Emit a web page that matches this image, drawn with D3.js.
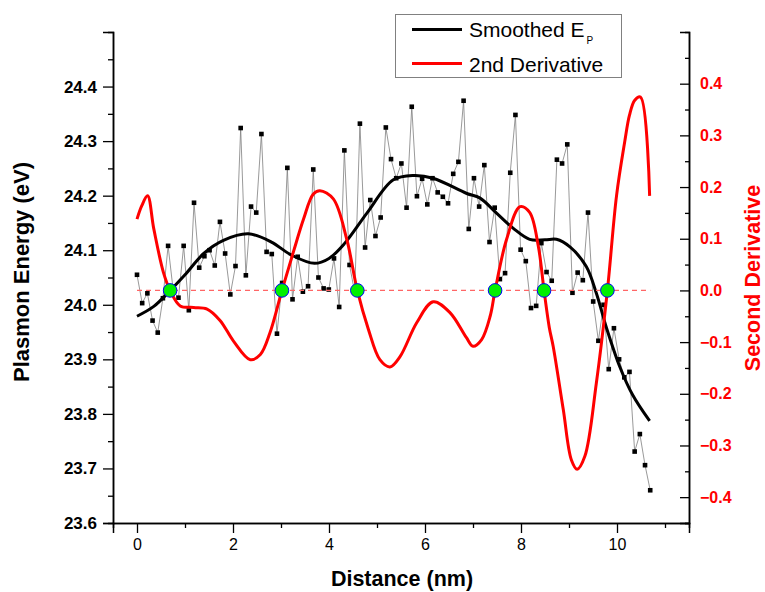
<!DOCTYPE html>
<html>
<head>
<meta charset="utf-8">
<script src="https://cdnjs.cloudflare.com/ajax/libs/d3/7.8.5/d3.min.js"></script>
<style>
  body { margin: 0; background: #fff; }
  text { font-family: "Liberation Sans", Arial, sans-serif; }
</style>
</head>
<body>
<div id="chart"></div>
<script>
// raw plasmon energy, one point every 0.108 nm starting at 0
var step = 0.108;
var rawEnergy = [
  24.055, 24.003, 24.021, 23.971, 23.949, 24.012, 24.108, 24.025, 24.013, 24.108,
  23.990, 24.187, 24.068, 24.089, 24.100, 24.072, 24.152, 24.094, 24.019, 24.071,
  24.324, 24.054, 24.180, 24.169, 24.313, 24.097, 24.093, 23.947, 24.040, 24.251,
  24.010, 24.088, 24.024, 24.034, 24.248, 24.050, 24.030, 24.028, 24.085, 23.996,
  24.283, 24.073, 24.022, 24.332, 24.105, 24.192, 24.126, 24.160, 24.325, 24.267,
  24.232, 24.259, 24.178, 24.363, 24.199, 24.231, 24.184, 24.232, 24.206, 24.198,
  24.186, 24.240, 24.262, 24.374, 24.139, 24.232, 24.180, 24.256, 24.115, 24.178,
  24.047, 24.058, 24.242, 24.348, 24.101, 24.080, 23.994, 23.998, 24.113, 24.060,
  24.044, 24.266, 24.259, 24.294, 24.022, 24.059, 24.045, 24.169, 24.006, 23.934,
  24.000, 23.882, 23.957, 23.900, 23.867, 23.877, 23.731, 23.763, 23.706, 23.660
];

// smoothed E_P
var smoothX = [0, 0.35, 0.69, 1.0, 1.39, 1.8, 2.32, 2.8, 3.22, 3.7, 4.0, 4.33, 4.79, 5.34,
  5.76, 6.17, 6.87, 7.14, 7.49, 7.84, 8.18, 8.5, 8.74, 9.02, 9.36, 9.57, 9.78, 10.06, 10.33, 10.68];
var smoothY = [23.979, 23.997, 24.026, 24.055, 24.094, 24.118, 24.130, 24.115, 24.091, 24.076,
  24.085, 24.113, 24.168, 24.229, 24.237, 24.232, 24.204, 24.196, 24.168, 24.140, 24.120,
  24.119, 24.120, 24.106, 24.070, 24.021, 23.958, 23.886, 23.834, 23.787];

// second derivative (right axis)
var derivX = [0, 0.10, 0.22, 0.35, 0.55, 0.69, 0.90, 1.18, 1.46, 1.73, 2.01, 2.36, 2.57, 2.77,
  3.02, 3.26, 3.47, 3.67, 3.81, 4.09, 4.37, 4.59, 4.82, 5.06, 5.27, 5.48, 5.83, 6.17, 6.52,
  6.86, 7.0, 7.18, 7.36, 7.46, 7.70, 7.98, 8.18, 8.36, 8.48, 8.59, 8.67, 8.88, 9.05, 9.17,
  9.33, 9.57, 9.80, 9.99, 10.16, 10.26, 10.37, 10.49, 10.68];
var derivY = [0.138, 0.164, 0.183, 0.119, 0.035, 0.0, -0.030, -0.033, -0.036, -0.058, -0.098,
  -0.134, -0.124, -0.082, 0.0, 0.075, 0.138, 0.186, 0.193, 0.177, 0.099, 0.0, -0.075, -0.134,
  -0.148, -0.128, -0.062, -0.022, -0.043, -0.091, -0.108, -0.095, -0.049, 0.0, 0.099, 0.162,
  0.151, 0.086, 0.0, -0.072, -0.108, -0.230, -0.328, -0.346, -0.321, -0.179, 0.0, 0.183,
  0.287, 0.339, 0.368, 0.374, 0.183];

// zero crossings of the second derivative
var zeroX = [0.69, 3.02, 4.59, 7.46, 8.48, 9.80];

var xTicks = [0, 2, 4, 6, 8, 10];
var leftTicks = [23.6, 23.7, 23.8, 23.9, 24.0, 24.1, 24.2, 24.3, 24.4];
var rightTicks = [-0.4, -0.3, -0.2, -0.1, 0.0, 0.1, 0.2, 0.3, 0.4];

var svgWidth = 765;
var svgHeight = 592;
var margin = { top: 32, right: 76, bottom: 69, left: 113 };
var chartWidth = svgWidth - margin.left - margin.right;
var chartHeight = svgHeight - margin.top - margin.bottom;

var svg = d3.select("#chart")
  .append("svg")
  .attr("width", svgWidth)
  .attr("height", svgHeight);

var chartGroup = svg.append("g")
  .attr("transform", `translate(${margin.left}, ${margin.top})`);

var xScale = d3.scaleLinear().domain([-0.5, 11.5]).range([0, chartWidth]);
var yLeft = d3.scaleLinear().domain([23.6, 24.5]).range([chartHeight, 0]);
var yRight = d3.scaleLinear().domain([-0.45, 0.5]).range([chartHeight, 0]);

// axes: major ticks labelled, minor ticks half way
var bottomAxis = d3.axisBottom(xScale).tickValues(xTicks).tickSize(10).tickPadding(6)
  .tickFormat(d3.format("d"));
var bottomMinor = d3.axisBottom(xScale).tickValues([1, 3, 5, 7, 9, 11]).tickSize(5).tickFormat("");
var leftAxis = d3.axisLeft(yLeft).tickValues(leftTicks).tickSize(10).tickPadding(6)
  .tickFormat(d3.format(".1f"));
var leftMinor = d3.axisLeft(yLeft).tickValues(d3.range(23.65, 24.5, 0.1)).tickSize(5).tickFormat("");
var rightAxis = d3.axisRight(yRight).tickValues(rightTicks).tickSize(-9).tickPadding(20)
  .tickFormat(d3.format(".1f"));
var rightMinor = d3.axisRight(yRight).tickValues(d3.range(-0.45, 0.46, 0.1)).tickSize(-4).tickFormat("");

var gx = chartGroup.append("g").attr("transform", `translate(0, ${chartHeight})`).call(bottomAxis);
chartGroup.append("g").attr("transform", `translate(0, ${chartHeight})`).call(bottomMinor);
var gl = chartGroup.append("g").call(leftAxis);
chartGroup.append("g").call(leftMinor);
var gr = chartGroup.append("g").attr("transform", `translate(${chartWidth}, 0)`).call(rightAxis);
chartGroup.append("g").attr("transform", `translate(${chartWidth}, 0)`).call(rightMinor);

chartGroup.selectAll(".domain").attr("stroke", "#000").attr("stroke-width", 1.5);
chartGroup.selectAll(".tick line").attr("stroke", "#000").attr("stroke-width", 1.3);

gx.selectAll("text").attr("font-size", 16).attr("fill", "#000");
gl.selectAll("text").attr("font-size", 17).attr("font-weight", "bold").attr("fill", "#000");
gr.selectAll("text").attr("font-size", 16).attr("font-weight", "bold").attr("fill", "#f00")
  .attr("text-anchor", "start").attr("x", 11);

// raw data: thin gray line with black squares
var rawData = rawEnergy.map(function(v, i) { return { x: i * step, y: v }; });

var rawLine = d3.line()
  .x(d => xScale(d.x))
  .y(d => yLeft(d.y));

chartGroup.append("path")
  .datum(rawData)
  .attr("d", rawLine)
  .attr("fill", "none")
  .attr("stroke", "#7f7f7f")
  .attr("stroke-width", 0.8);

chartGroup.selectAll(".pt")
  .data(rawData)
  .enter()
  .append("rect")
  .attr("class", "pt")
  .attr("x", d => xScale(d.x) - 2.3)
  .attr("y", d => yLeft(d.y) - 2.3)
  .attr("width", 4.6)
  .attr("height", 4.6)
  .attr("fill", "#000");

// smoothed curve
var smoothData = smoothX.map(function(x, i) { return { x: x, y: smoothY[i] }; });
chartGroup.append("path")
  .datum(smoothData)
  .attr("d", d3.line().x(d => xScale(d.x)).y(d => yLeft(d.y)).curve(d3.curveCatmullRom.alpha(0.5)))
  .attr("fill", "none")
  .attr("stroke", "#000")
  .attr("stroke-width", 3);

// second derivative
var derivData = derivX.map(function(x, i) { return { x: x, y: derivY[i] }; });
chartGroup.append("path")
  .datum(derivData)
  .attr("d", d3.line().x(d => xScale(d.x)).y(d => yRight(d.y)).curve(d3.curveCatmullRom.alpha(0.5)))
  .attr("fill", "none")
  .attr("stroke", "#f00")
  .attr("stroke-width", 3);

// zero line
chartGroup.append("line")
  .attr("x1", xScale(0))
  .attr("x2", xScale(rawData[rawData.length - 1].x))
  .attr("y1", yRight(0))
  .attr("y2", yRight(0))
  .attr("stroke", "#f66")
  .attr("stroke-width", 1.2)
  .attr("stroke-dasharray", "5,4");

chartGroup.selectAll(".zero")
  .data(zeroX)
  .enter()
  .append("circle")
  .attr("class", "zero")
  .attr("cx", d => xScale(d))
  .attr("cy", yRight(0))
  .attr("r", 6.8)
  .attr("fill", "#00f000")
  .attr("stroke", "#0000ff")
  .attr("stroke-width", 1);

// axis titles
svg.append("text")
  .attr("transform", "translate(29, 272) rotate(-90)")
  .attr("text-anchor", "middle")
  .attr("font-size", 22)
  .attr("font-weight", "bold")
  .text("Plasmon Energy (eV)");

svg.append("text")
  .attr("transform", "translate(760, 278) rotate(-90)")
  .attr("text-anchor", "middle")
  .attr("font-size", 21.5)
  .attr("font-weight", "bold")
  .attr("fill", "#f00")
  .text("Second Derivative");

svg.append("text")
  .attr("x", 402)
  .attr("y", 586)
  .attr("text-anchor", "middle")
  .attr("font-size", 21.5)
  .attr("font-weight", "bold")
  .text("Distance (nm)");

// legend
var legend = svg.append("g");
legend.append("rect")
  .attr("x", 395.5).attr("y", 14.5)
  .attr("width", 226).attr("height", 63)
  .attr("fill", "#fff").attr("stroke", "#808080").attr("stroke-width", 1);
legend.append("line")
  .attr("x1", 412).attr("x2", 462).attr("y1", 29.5).attr("y2", 29.5)
  .attr("stroke", "#000").attr("stroke-width", 3);
legend.append("line")
  .attr("x1", 412).attr("x2", 462).attr("y1", 63.5).attr("y2", 63.5)
  .attr("stroke", "#f00").attr("stroke-width", 3);
var t1 = legend.append("text").attr("x", 469).attr("y", 37).attr("font-size", 21);
t1.append("tspan").text("Smoothed E");
t1.append("tspan").attr("font-size", 10).attr("dx", 2).attr("dy", 7).text("P");
legend.append("text").attr("x", 469).attr("y", 72).attr("font-size", 21).text("2nd Derivative");
</script>
</body>
</html>
